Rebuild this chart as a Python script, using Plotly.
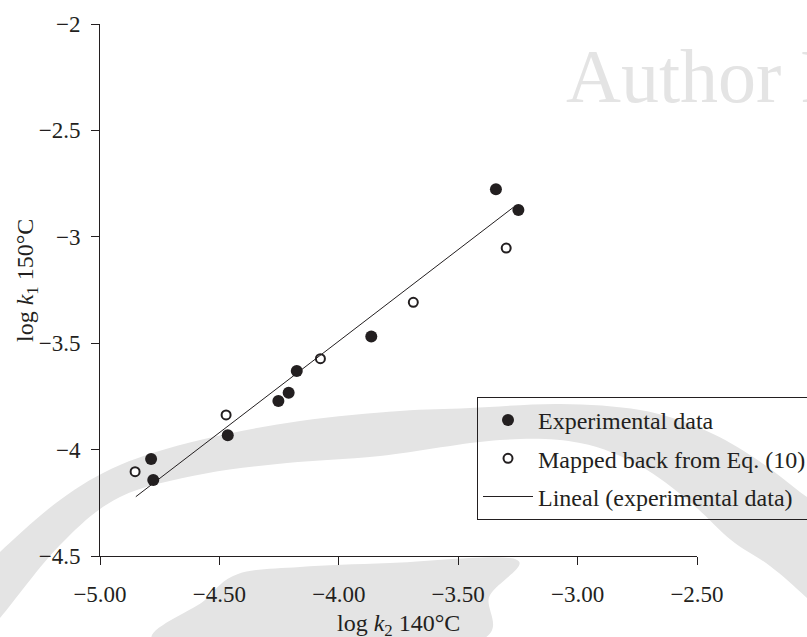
import numpy as np
import plotly.graph_objects as go

# log k2 (140 °C) vs log k1 (150 °C)
exp_x = [-4.786, -4.777, -4.465, -4.253, -4.210, -4.176, -3.864, -3.342, -3.248]
exp_y = [-4.044, -4.143, -3.933, -3.772, -3.733, -3.631, -3.469, -2.777, -2.874]

mapped_x = [-4.853, -4.472, -4.077, -3.688, -3.299]
mapped_y = [-4.104, -3.837, -3.573, -3.308, -3.053]

# x extent over which the linear trend line is drawn
fit_x_span = [-4.85, -3.27]

x_ticks = [-5.0, -4.5, -4.0, -3.5, -3.0, -2.5]
y_ticks = [-4.5, -4.0, -3.5, -3.0, -2.5, -2.0]

x_title = "log <i>k</i><sub>2</sub> 140°C"
y_title = "log <i>k</i><sub>1</sub> 150°C"

INK = "#231f20"
SERIF = "Liberation Serif, Times New Roman, serif"
WM = "#e4e4e4"

W, H = 807, 637
ML, MR, MT, MB = 100, 110, 24, 81
PW, PH = W - ML - MR, H - MT - MB

slope, intercept = np.polyfit(exp_x, exp_y, 1)
fit_x = np.array(fit_x_span)
fit_y = slope * fit_x + intercept

fig = go.Figure()
fig.add_trace(go.Scatter(
    x=exp_x, y=exp_y, mode="markers", name="Experimental data",
    marker=dict(symbol="circle", size=12, color=INK, line=dict(width=0)),
    legendgroup="a",
))
fig.add_trace(go.Scatter(
    x=mapped_x, y=mapped_y, mode="markers", name="Mapped back from Eq. (10)",
    marker=dict(symbol="circle", size=9, color="white", line=dict(width=2, color=INK)),
    legendgroup="b",
))
fig.add_trace(go.Scatter(
    x=fit_x, y=fit_y, mode="lines", name="Lineal (experimental data)",
    line=dict(color=INK, width=1), legendgroup="c",
))


# --- light-grey background watermark (pixel geometry -> paper units) ---
def to_paper(p):
    px, py = p
    return ((px - ML) / PW, (H - MB - py) / PH)


def smooth_path(pts, closed=True):
    pts = [to_paper(p) for p in pts]
    n = len(pts)
    d = "M{:.4f},{:.4f}".format(*pts[0])
    for i in range(n - 1 if not closed else n):
        p0 = pts[(i - 1) % n]
        p1 = pts[i]
        p2 = pts[(i + 1) % n]
        p3 = pts[(i + 2) % n]
        c1 = (p1[0] + (p2[0] - p0[0]) / 6, p1[1] + (p2[1] - p0[1]) / 6)
        c2 = (p2[0] - (p3[0] - p1[0]) / 6, p2[1] - (p3[1] - p1[1]) / 6)
        d += " C{:.4f},{:.4f} {:.4f},{:.4f} {:.4f},{:.4f}".format(*c1, *c2, *p2)
    return d + " Z"


arc_outer = [(-30, 585), (0, 552), (60, 500), (120, 465), (200, 440), (300, 421),
             (400, 411), (470, 408), (560, 404), (640, 410), (700, 428),
             (750, 455), (800, 492), (850, 535)]
arc_inner = [(850, 640), (807, 598), (770, 566), (731, 540), (690, 502),
             (640, 466), (580, 443), (500, 440), (380, 456), (287, 463),
             (203, 474), (120, 497), (60, 545), (0, 618), (-30, 650)]
swoosh = [(165, 645), (205, 600), (238, 574), (300, 567), (390, 563),
          (515, 559), (490, 595), (462, 645)]

shapes = [
    dict(type="path", xref="paper", yref="paper", layer="below",
         path=smooth_path(arc_outer + arc_inner), fillcolor=WM, line=dict(width=0)),
    dict(type="path", xref="paper", yref="paper", layer="below",
         path=smooth_path(swoosh), fillcolor=WM, line=dict(width=0)),
]

title_font = dict(family=SERIF, size=24, color=INK)
annotations = [
    dict(text="Author Proof", xref="paper", yref="paper",
         x=(564 - ML) / PW, y=(H - MB - 76) / PH, xanchor="left", yanchor="middle",
         showarrow=False, font=dict(family=SERIF, size=76, color="#e4e4e4")),
    # axis titles
    dict(text=x_title, xref="paper", yref="paper",
         x=0.5, y=(H - MB - 625) / PH, xanchor="center", yanchor="middle",
         showarrow=False, font=title_font),
    dict(text=y_title, xref="paper", yref="paper", textangle=-90,
         x=(27 - ML) / PW, y=(H - MB - 281) / PH, xanchor="center", yanchor="middle",
         showarrow=False, font=title_font),
]

fig.update_layout(
    width=W, height=H,
    margin=dict(l=ML, r=MR, t=MT, b=MB, autoexpand=False),
    paper_bgcolor="white", plot_bgcolor="rgba(0,0,0,0)",
    font=dict(family=SERIF, size=23, color=INK),
    shapes=shapes, annotations=annotations,
    showlegend=True,
    legend=dict(
        x=(477 - ML) / PW, y=(H - MB - 397) / PH, xanchor="left", yanchor="top",
        bgcolor="rgba(0,0,0,0)", bordercolor=INK, borderwidth=1,
        font=dict(family=SERIF, size=24, color=INK),
        itemwidth=50, tracegroupgap=4, traceorder="grouped",
    ),
    xaxis=dict(
        range=[-5, -2.5], tickvals=x_ticks, tickformat=".2f",
        ticks="outside", ticklen=8, tickcolor=INK, tickwidth=1,
        showline=True, linecolor=INK, linewidth=1, showgrid=False, zeroline=False,
        ticklabelstandoff=9,
    ),
    yaxis=dict(
        range=[-4.5, -2], tickvals=y_ticks,
        ticks="outside", ticklen=8, tickcolor=INK, tickwidth=1,
        showline=True, linecolor=INK, linewidth=1, showgrid=False, zeroline=False,
        ticklabelstandoff=6,
    ),
)

fig.write_html("out.html")
